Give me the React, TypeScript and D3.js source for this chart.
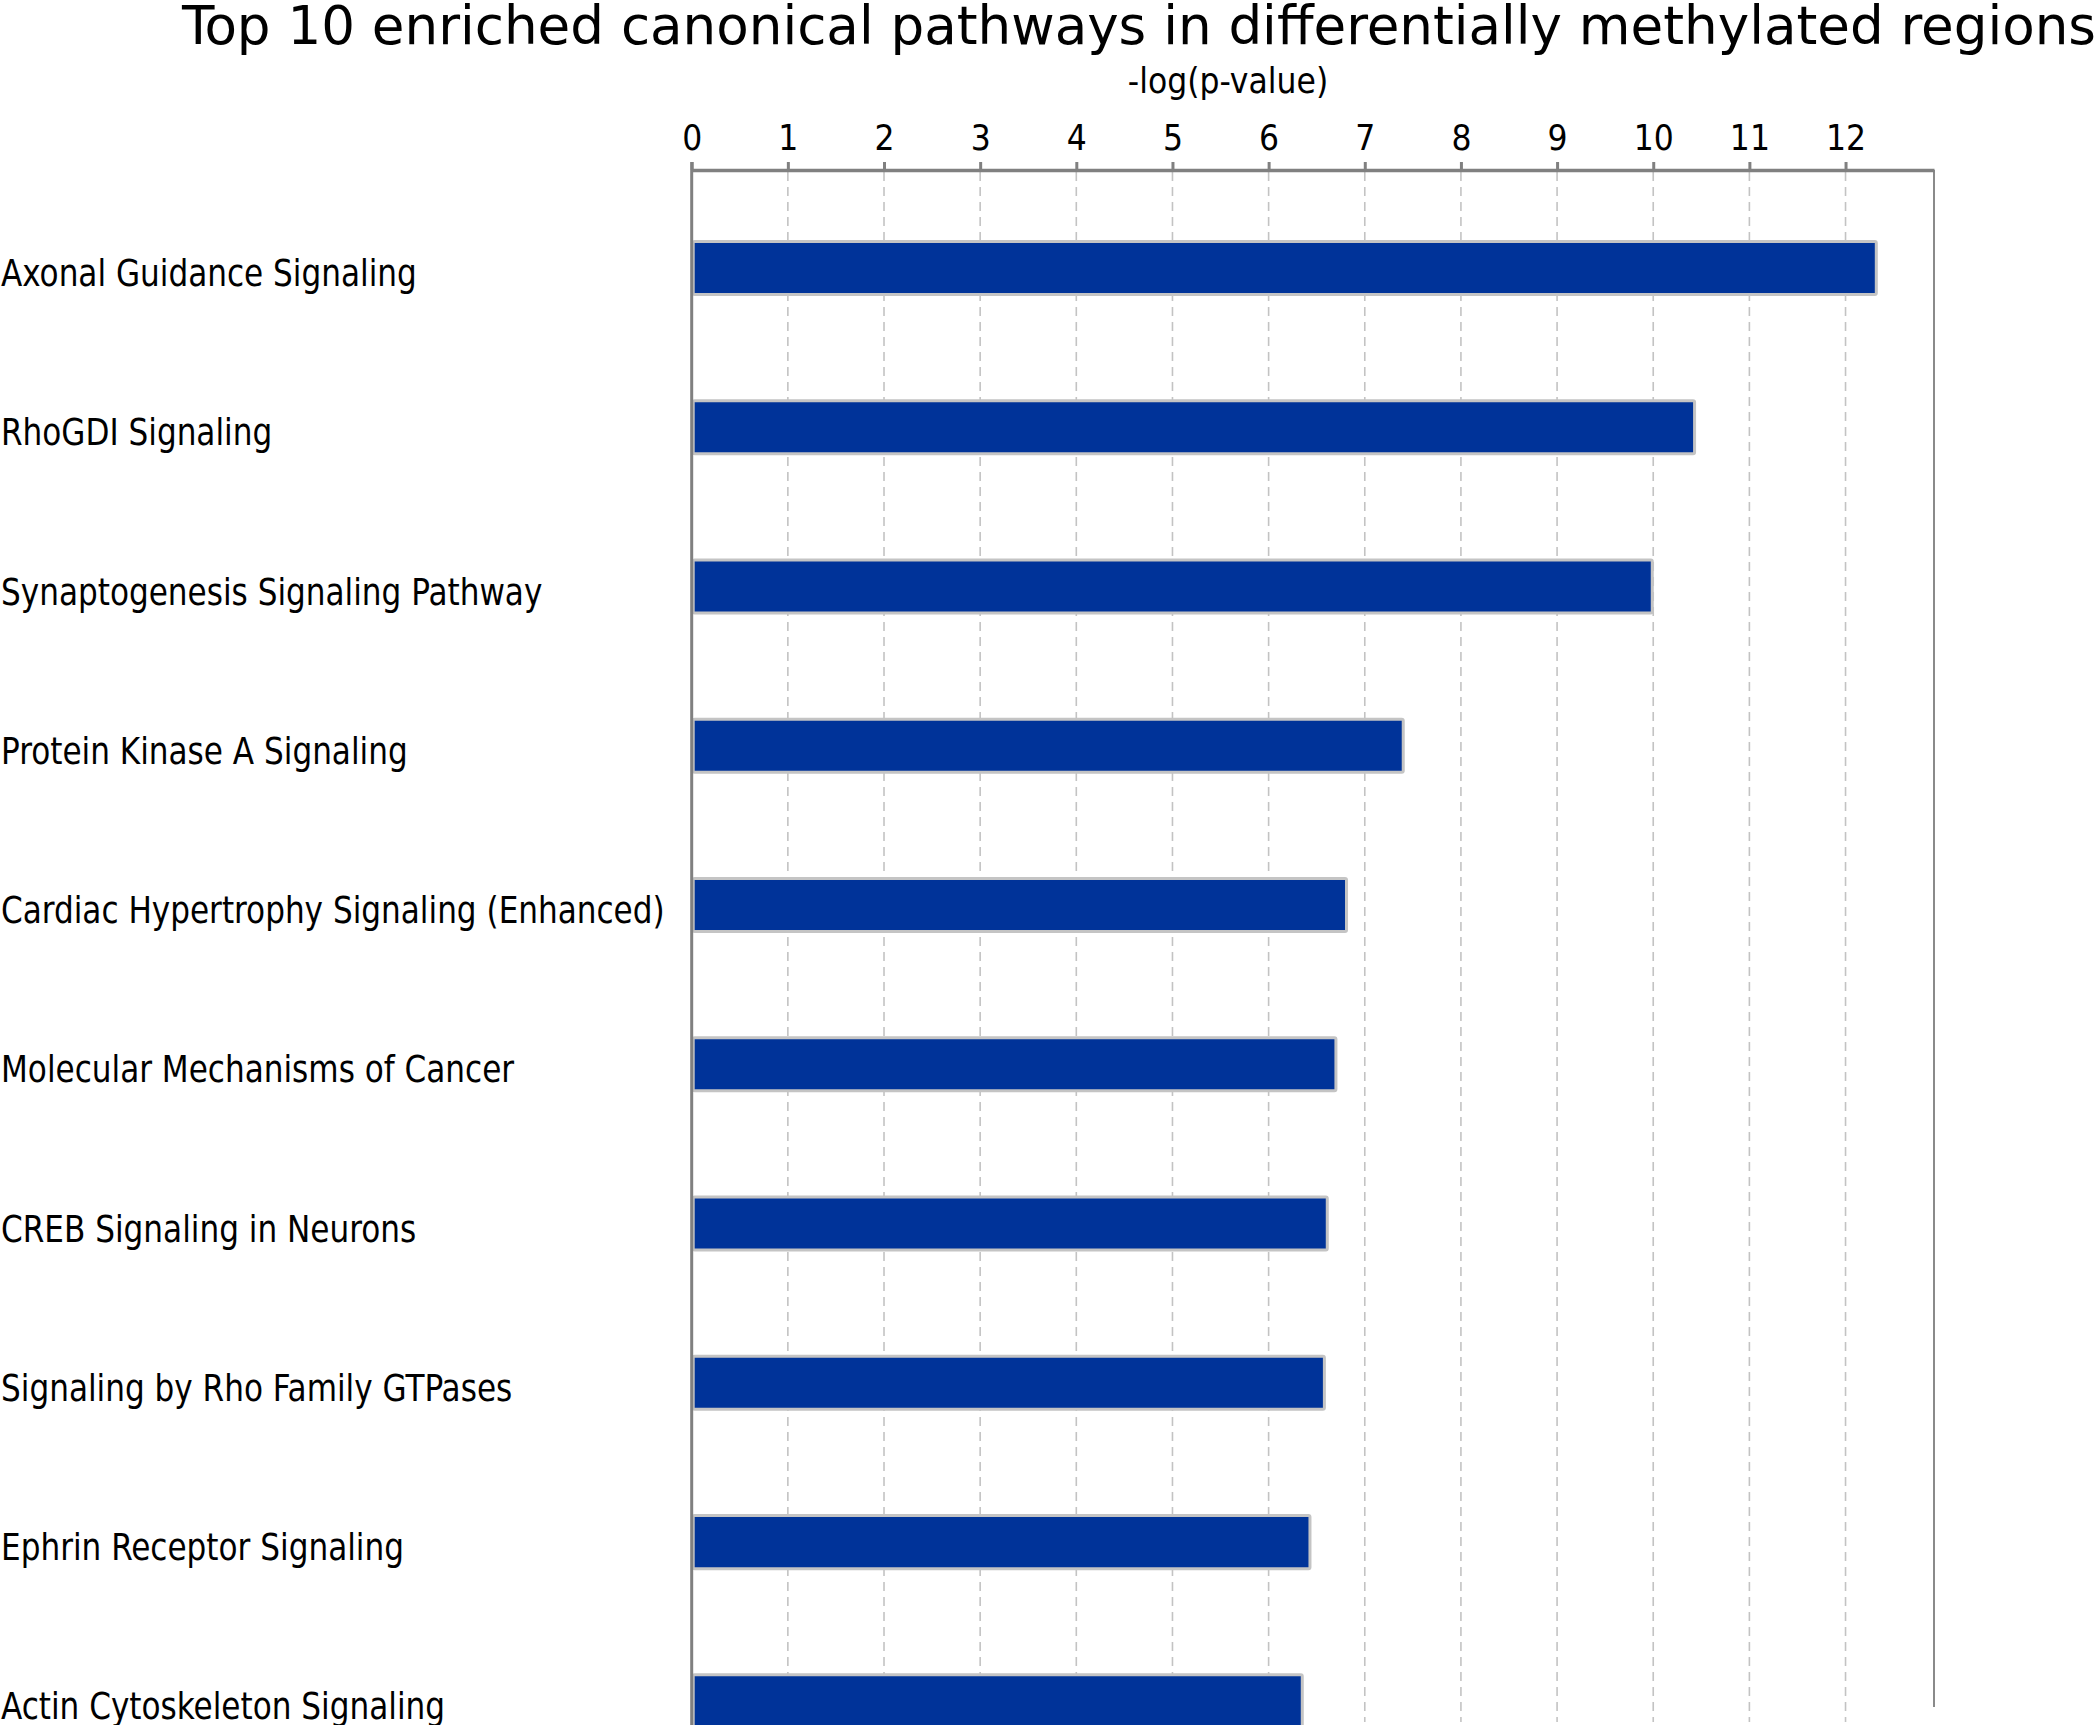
import { useEffect, useRef } from "react";
import * as d3 from "d3";

const pathways = [
  "Axonal Guidance Signaling",
  "RhoGDI Signaling",
  "Synaptogenesis Signaling Pathway",
  "Protein Kinase A Signaling",
  "Cardiac Hypertrophy Signaling (Enhanced)",
  "Molecular Mechanisms of Cancer",
  "CREB Signaling in Neurons",
  "Signaling by Rho Family GTPases",
  "Ephrin Receptor Signaling",
  "Actin Cytoskeleton Signaling",
];

const negLogP = [12.32, 10.43, 9.99, 7.4, 6.81, 6.7, 6.61, 6.58, 6.43, 6.35];

const ticks = [0, 1, 2, 3, 4, 5, 6, 7, 8, 9, 10, 11, 12];

const title = "Top 10 enriched canonical pathways in differentially methylated regions";
const axisTitle = "-log(p-value)";

const NARROW = "'DejaVu Sans Condensed', 'DejaVu Sans', sans-serif";

export default function App() {
  const ref = useRef<SVGSVGElement>(null);

  useEffect(() => {
    if (!ref.current) return;
    const svg = d3.select(ref.current);
    svg.selectAll("*").remove();
    const width = 2100;
    const height = 1725;
    const axisY = 170;

    const x = d3.scaleLinear().domain([0, 12.92]).range([691.7, 1934]);
    const y = d3
      .scaleBand()
      .domain(pathways)
      .range([188.4, 1781])
      .paddingInner(0.667)
      .paddingOuter(0.3335);

    svg.append("rect").attr("width", width).attr("height", height).attr("fill", "#fff");

    // title, fitted to the reference width
    svg
      .append("text")
      .attr("x", 182)
      .attr("y", 44)
      .attr("textLength", 1914)
      .attr("lengthAdjust", "spacingAndGlyphs")
      .style("font-family", NARROW)
      .style("font-size", "54px")
      .style("fill", "#000")
      .text(title);

    svg
      .append("text")
      .attr("x", 1228)
      .attr("y", 93)
      .attr("text-anchor", "middle")
      .style("font-family", NARROW)
      .style("font-size", "35px")
      .style("fill", "#000")
      .text(axisTitle);

    // dashed grid
    svg
      .append("g")
      .selectAll("line")
      .data(ticks.slice(1))
      .enter()
      .append("line")
      .attr("x1", (d) => x(d))
      .attr("x2", (d) => x(d))
      .attr("y1", axisY + 2)
      .attr("y2", 1722)
      .attr("stroke", "#c3c3c3")
      .attr("stroke-width", 1.6)
      .attr("stroke-dasharray", "9,6");

    // right frame
    svg
      .append("line")
      .attr("x1", x(12.92))
      .attr("x2", x(12.92))
      .attr("y1", axisY)
      .attr("y2", 1707)
      .attr("stroke", "#8a8a8a")
      .attr("stroke-width", 2);

    // top axis
    const axis = svg
      .append("g")
      .attr("transform", `translate(0,${axisY})`)
      .call(d3.axisTop(x).tickValues(ticks).tickSize(8).tickPadding(12).tickSizeOuter(0));
    axis.select(".domain").attr("stroke", "#808080").attr("stroke-width", 3.5);
    axis.selectAll(".tick line").attr("stroke", "#808080").attr("stroke-width", 3);
    axis
      .selectAll(".tick text")
      .style("font-family", NARROW)
      .style("font-size", "35px")
      .style("fill", "#000");

    // bars
    svg
      .append("g")
      .selectAll("rect")
      .data(negLogP)
      .enter()
      .append("rect")
      .attr("x", x(0) + 1.5)
      .attr("y", (_d, i) => y(pathways[i])!)
      .attr("width", (d) => x(d) - x(0) - 1.5)
      .attr("height", y.bandwidth())
      .attr("fill", "#003399")
      .attr("stroke", "#c4c4c4")
      .attr("stroke-width", 3)
      .attr("rx", 1.5);

    // left axis line
    svg
      .append("line")
      .attr("x1", x(0))
      .attr("x2", x(0))
      .attr("y1", axisY - 8)
      .attr("y2", height)
      .attr("stroke", "#808080")
      .attr("stroke-width", 3);

    // category labels, narrowed a little to match the reference face
    const labels = svg
      .append("g")
      .selectAll("text")
      .data(pathways)
      .enter()
      .append("text")
      .attr("x", 1)
      .attr("y", (d) => y(d)! + y.bandwidth() / 2 + 18)
      .style("font-family", NARROW)
      .style("font-size", "38px")
      .style("fill", "#000")
      .text((d) => d);
    labels.each(function () {
      const el = this as SVGTextElement;
      const w = el.getComputedTextLength();
      el.setAttribute("textLength", String(w * 0.91));
      el.setAttribute("lengthAdjust", "spacingAndGlyphs");
    });
  }, []);

  return (
    <svg
      ref={ref}
      width={2100}
      height={1725}
      style={{ position: "absolute", left: 0, top: 0, display: "block" }}
    />
  );
}
